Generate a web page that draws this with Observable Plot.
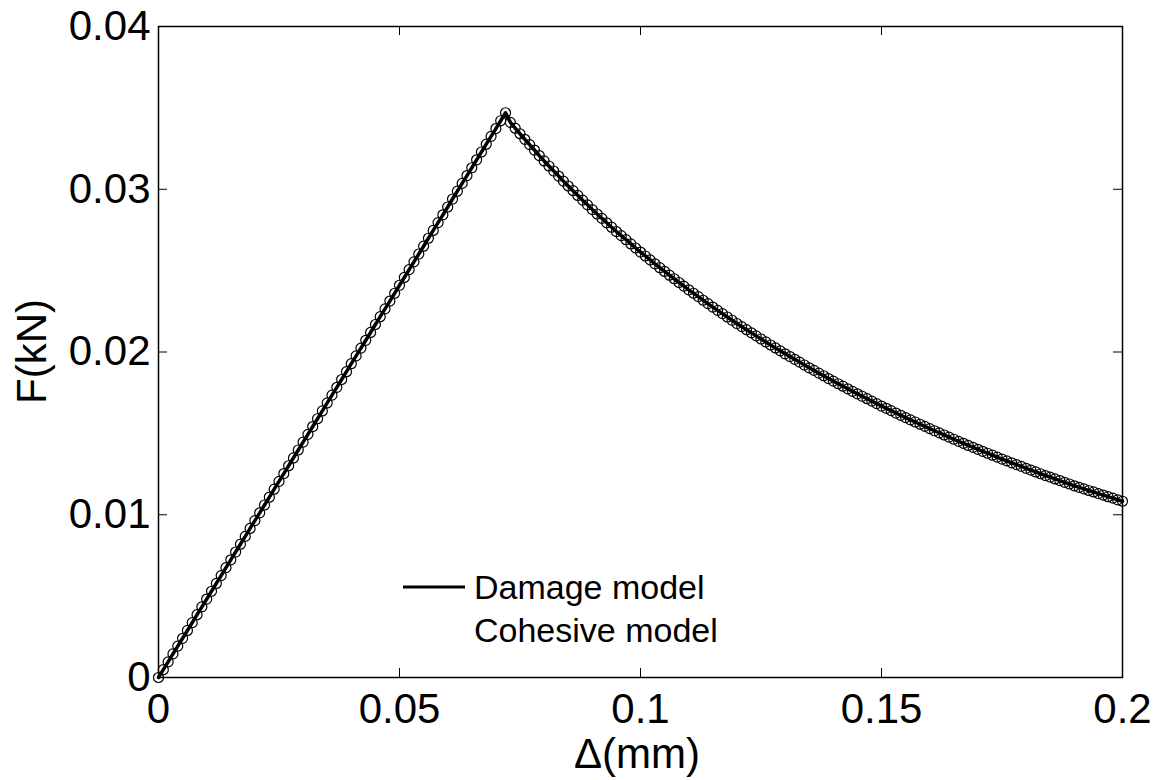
<!DOCTYPE html>
<html>
<head>
<meta charset="utf-8">
<script src="https://cdn.jsdelivr.net/npm/d3@7"></script>
<script src="https://cdn.jsdelivr.net/npm/@observablehq/plot@0.6"></script>
<style>
  html, body { margin: 0; padding: 0; background: #fff; }
  #chart { position: relative; width: 1158px; height: 780px; }
</style>
</head>
<body>
<div id="chart"></div>
<script>
// Displacement Δ (mm)
const displacement = [
  0.000,0.001,0.002,0.003,0.004,0.005,0.006,0.007,0.008,0.009,
  0.010,0.011,0.012,0.013,0.014,0.015,0.016,0.017,0.018,0.019,
  0.020,0.021,0.022,0.023,0.024,0.025,0.026,0.027,0.028,0.029,
  0.030,0.031,0.032,0.033,0.034,0.035,0.036,0.037,0.038,0.039,
  0.040,0.041,0.042,0.043,0.044,0.045,0.046,0.047,0.048,0.049,
  0.050,0.051,0.052,0.053,0.054,0.055,0.056,0.057,0.058,0.059,
  0.060,0.061,0.062,0.063,0.064,0.065,0.066,0.067,0.068,0.069,
  0.070,0.071,0.072,0.073,0.074,0.075,0.076,0.077,0.078,0.079,
  0.080,0.081,0.082,0.083,0.084,0.085,0.086,0.087,0.088,0.089,
  0.090,0.091,0.092,0.093,0.094,0.095,0.096,0.097,0.098,0.099,
  0.100,0.101,0.102,0.103,0.104,0.105,0.106,0.107,0.108,0.109,
  0.110,0.111,0.112,0.113,0.114,0.115,0.116,0.117,0.118,0.119,
  0.120,0.121,0.122,0.123,0.124,0.125,0.126,0.127,0.128,0.129,
  0.130,0.131,0.132,0.133,0.134,0.135,0.136,0.137,0.138,0.139,
  0.140,0.141,0.142,0.143,0.144,0.145,0.146,0.147,0.148,0.149,
  0.150,0.151,0.152,0.153,0.154,0.155,0.156,0.157,0.158,0.159,
  0.160,0.161,0.162,0.163,0.164,0.165,0.166,0.167,0.168,0.169,
  0.170,0.171,0.172,0.173,0.174,0.175,0.176,0.177,0.178,0.179,
  0.180,0.181,0.182,0.183,0.184,0.185,0.186,0.187,0.188,0.189,
  0.190,0.191,0.192,0.193,0.194,0.195,0.196,0.197,0.198,0.199,
  0.200
];

// Force F (kN) – damage model (line) and cohesive model (circles) coincide
const force = [
  0.00000,0.00048,0.00096,0.00145,0.00193,0.00241,0.00289,0.00337,0.00386,0.00434,
  0.00482,0.00530,0.00578,0.00626,0.00675,0.00723,0.00771,0.00819,0.00867,0.00916,
  0.00964,0.01012,0.01060,0.01108,0.01157,0.01205,0.01253,0.01301,0.01349,0.01398,
  0.01446,0.01494,0.01542,0.01590,0.01638,0.01687,0.01735,0.01783,0.01831,0.01879,
  0.01928,0.01976,0.02024,0.02072,0.02120,0.02169,0.02217,0.02265,0.02313,0.02361,
  0.02410,0.02458,0.02506,0.02554,0.02602,0.02650,0.02699,0.02747,0.02795,0.02843,
  0.02891,0.02940,0.02988,0.03036,0.03084,0.03132,0.03181,0.03229,0.03277,0.03325,
  0.03373,0.03421,0.03470,0.03411,0.03375,0.03341,0.03307,0.03274,0.03241,0.03207,
  0.03174,0.03143,0.03112,0.03081,0.03050,0.03020,0.02991,0.02962,0.02933,0.02904,
  0.02875,0.02848,0.02821,0.02794,0.02767,0.02740,0.02715,0.02690,0.02664,0.02639,
  0.02614,0.02590,0.02566,0.02542,0.02518,0.02495,0.02472,0.02450,0.02427,0.02405,
  0.02382,0.02361,0.02340,0.02318,0.02297,0.02276,0.02256,0.02236,0.02215,0.02195,
  0.02175,0.02156,0.02137,0.02118,0.02099,0.02080,0.02062,0.02043,0.02025,0.02007,
  0.01989,0.01972,0.01955,0.01938,0.01920,0.01903,0.01887,0.01870,0.01854,0.01837,
  0.01821,0.01805,0.01790,0.01774,0.01758,0.01743,0.01728,0.01713,0.01698,0.01683,
  0.01668,0.01654,0.01640,0.01625,0.01611,0.01597,0.01583,0.01570,0.01556,0.01543,
  0.01529,0.01516,0.01503,0.01490,0.01477,0.01464,0.01451,0.01439,0.01426,0.01414,
  0.01402,0.01390,0.01378,0.01366,0.01354,0.01342,0.01331,0.01319,0.01308,0.01297,
  0.01285,0.01274,0.01263,0.01252,0.01241,0.01231,0.01220,0.01210,0.01199,0.01189,
  0.01178,0.01168,0.01159,0.01149,0.01140,0.01130,0.01121,0.01111,0.01102,0.01092,
  0.01083
];

const xTicks = [0, 0.05, 0.1, 0.15, 0.2];
const xTickLabels = ["0", "0.05", "0.1", "0.15", "0.2"];
const yTicks = [0, 0.01, 0.02, 0.03, 0.04];
const yTickLabels = ["0", "0.01", "0.02", "0.03", "0.04"];
const seriesNames = ["Damage model", "Cohesive model"];
const xTitle = "Δ(mm)";
const yTitle = "F(kN)";

const data = displacement.map((d, i) => ({x: d, f: force[i]}));

const W = 1158, H = 780;
const mL = 158, mR = 36, mT = 26, mB = 103;
const fw = W - mL - mR, fh = H - mT - mB;
const tickLen = 9;
const FONT = "'Liberation Sans', Arial, Helvetica, sans-serif";

const plot = Plot.plot({
  width: W,
  height: H,
  marginLeft: mL,
  marginRight: mR,
  marginTop: mT,
  marginBottom: mB,
  style: {fontFamily: FONT, fontSize: "42px", color: "#000", background: "#fff"},
  x: {
    domain: [0, 0.2],
    ticks: xTicks,
    tickFormat: (d) => xTickLabels[xTicks.indexOf(d)],
    tickSize: 0,
    tickPadding: 16,
    label: null
  },
  y: {
    domain: [0, 0.04],
    ticks: yTicks,
    tickFormat: (d) => yTickLabels[yTicks.indexOf(d)],
    tickSize: 0,
    tickPadding: 8,
    label: null
  },
  marks: [
    Plot.line(data, {x: "x", y: "f", stroke: "#000", strokeWidth: 3.5}),
    Plot.dot(data, {x: "x", y: "f", r: 5, stroke: "#000", strokeWidth: 1.2, fill: "none"}),
    // inward ticks, MATLAB box style
    Plot.tickX(xTicks, {x: (d) => d, insetTop: fh - tickLen, stroke: "#000", strokeWidth: 1}),
    Plot.tickX(xTicks, {x: (d) => d, insetBottom: fh - tickLen, stroke: "#000", strokeWidth: 1}),
    Plot.tickY(yTicks, {y: (d) => d, insetRight: fw - tickLen, stroke: "#000", strokeWidth: 1}),
    Plot.tickY(yTicks, {y: (d) => d, insetLeft: fw - tickLen, stroke: "#000", strokeWidth: 1}),
    Plot.frame({stroke: "#000", strokeWidth: 1.5})
  ]
});

document.getElementById("chart").appendChild(plot);

// Axis titles and legend (layout only)
const svg = d3.select(plot);
svg.append("text")
  .attr("x", mL + fw / 2 - 3)
  .attr("y", 768)
  .attr("text-anchor", "middle")
  .attr("font-family", FONT)
  .attr("font-size", 42)
  .attr("fill", "#000")
  .text(xTitle);

svg.append("text")
  .attr("transform", `translate(46,${mT + fh / 2}) rotate(-90)`)
  .attr("text-anchor", "middle")
  .attr("font-family", FONT)
  .attr("font-size", 42)
  .attr("fill", "#000")
  .text(yTitle);

const leg = svg.append("g").attr("text-anchor", "start");
leg.append("line")
  .attr("x1", 403).attr("x2", 465)
  .attr("y1", 587).attr("y2", 587)
  .attr("stroke", "#000").attr("stroke-width", 3);
leg.append("text")
  .attr("x", 474).attr("y", 599)
  .attr("text-anchor", "start")
  .attr("font-family", FONT).attr("font-size", 34).attr("fill", "#000")
  .text(seriesNames[0]);
leg.append("text")
  .attr("x", 474).attr("y", 642)
  .attr("text-anchor", "start")
  .attr("font-family", FONT).attr("font-size", 34).attr("fill", "#000")
  .text(seriesNames[1]);
</script>
</body>
</html>
